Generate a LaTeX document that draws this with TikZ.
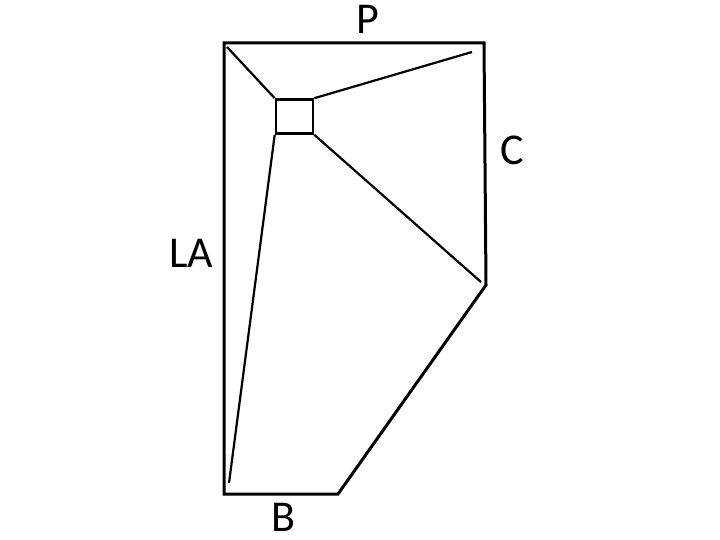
\documentclass[tikz,border=0pt]{standalone}
\usepackage{fontspec}
\setmainfont{Carlito}
\begin{document}
\begin{tikzpicture}[x=1pt,y=-1pt,
  outer/.style={line width=3pt,line join=miter},
  inner/.style={line width=2.2pt},
  lbl/.style={anchor=base,inner sep=0pt,font=\fontsize{44}{44}\selectfont}]
\useasboundingbox (0,0) rectangle (720,540);
\coordinate (tl) at (224,43);
\coordinate (tr) at (484,43);
\coordinate (r) at (486,285);
\coordinate (b) at (338,494);
\coordinate (bl) at (224,494);
\draw[outer] (tl) -- (tr) -- (r) -- (b) -- (bl) -- cycle;
\node[draw,line width=2.6pt,minimum width=37pt,minimum height=34pt,inner sep=0pt] (sq) at (294.5,116.5) {};
\coordinate (e1) at (227,47);
\coordinate (e2) at (472,52);
\coordinate (e3) at (481,282);
\coordinate (e4) at (229,483);
\draw[inner] (e1) -- (sq.north west);
\draw[inner] (sq.north east) -- (e2);
\draw[inner] (sq.south east) -- (e3);
\draw[inner] (sq.south west) -- (e4);
\node[lbl] (P) at (368,34) {P};
\node[lbl] (C) at (512,165) {C};
\node[lbl] (LA) at (191,267) {LA};
\node[lbl] (B) at (283,531) {B};
\end{tikzpicture}
\end{document}
